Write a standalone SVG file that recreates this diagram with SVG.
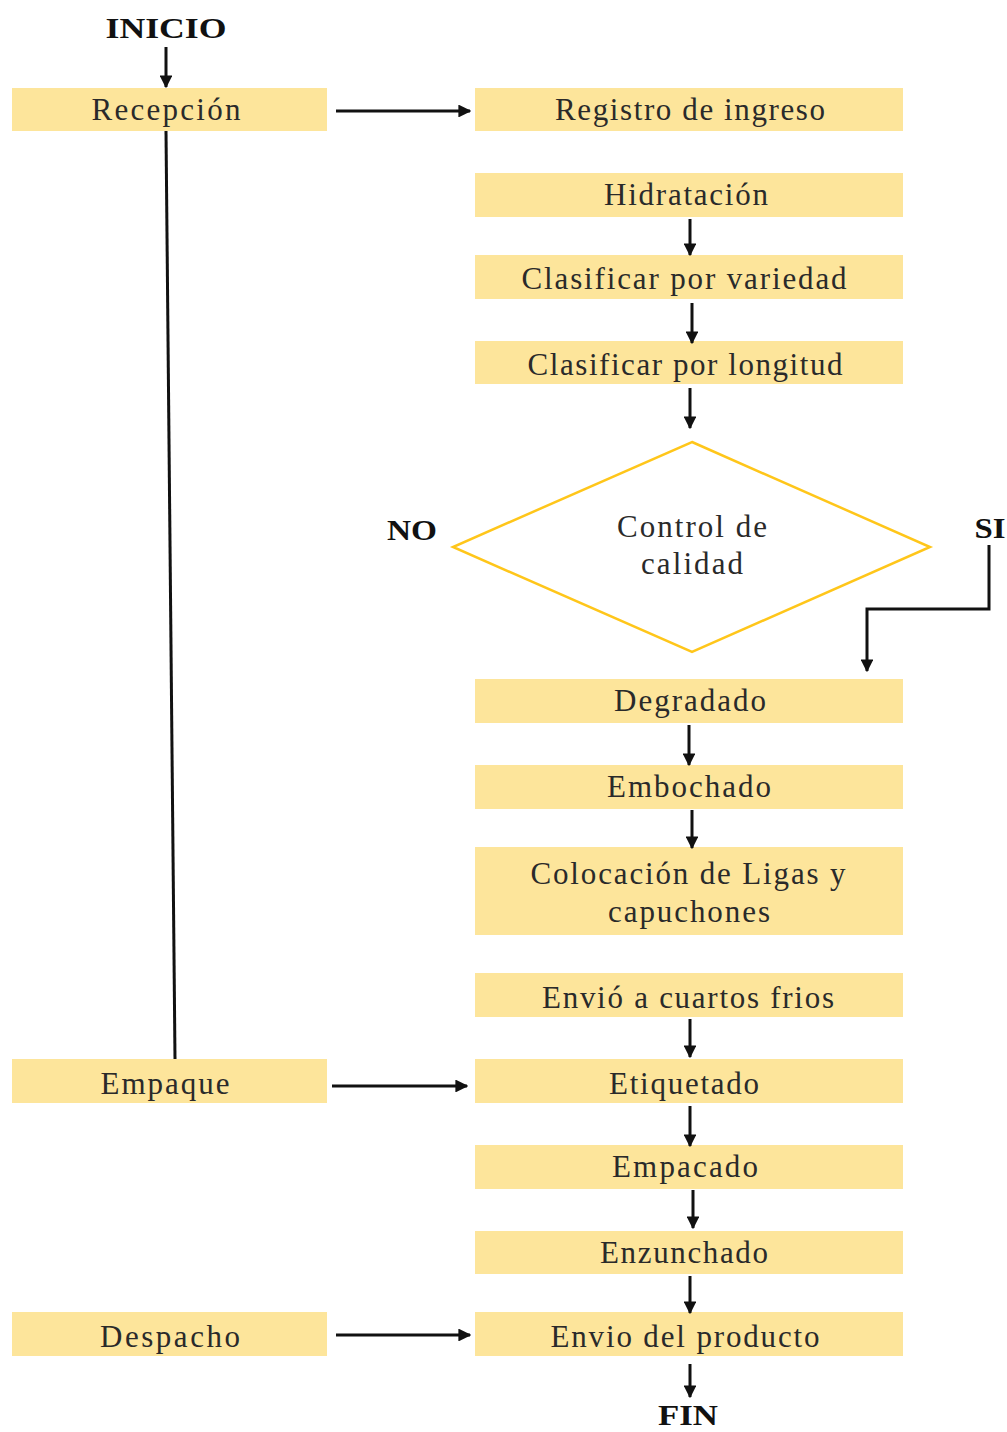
<svg xmlns="http://www.w3.org/2000/svg" width="1007" height="1432" viewBox="0 0 1007 1432">
<defs>
<style>
.box{fill:#FDE59B;}
.t{font-family:"Liberation Serif","Times New Roman",serif;font-size:31px;fill:#2a2a2a;text-anchor:middle;}
.b{font-weight:bold;fill:#111;font-size:29px;}
.c{stroke:#111;stroke-width:3;fill:none;}
</style>
<marker id="ah" viewBox="0 0 10 10" refX="9" refY="5" markerWidth="4.3" markerHeight="4.3" markerUnits="strokeWidth" orient="auto">
<path d="M0,0 L10,5 L0,10 z" fill="#111"/>
</marker>
</defs>
<rect width="1007" height="1432" fill="#fff"/>

<g id="inicio"><text class="t b" x="166" y="38" textLength="121" lengthAdjust="spacingAndGlyphs">INICIO</text></g>
<g id="recepcion"><rect class="box" x="12" y="88" width="315" height="43"/><text class="t" x="166" y="120" textLength="149" lengthAdjust="spacing">Recepción</text></g>
<g id="registro"><rect class="box" x="475" y="88" width="428" height="43"/><text class="t" x="690" y="120" textLength="270" lengthAdjust="spacing">Registro de ingreso</text></g>
<g id="hidratacion"><rect class="box" x="475" y="173" width="428" height="44"/><text class="t" x="686" y="205" textLength="164" lengthAdjust="spacing">Hidratación</text></g>
<g id="clasvar"><rect class="box" x="475" y="255" width="428" height="44"/><text class="t" x="684" y="289" textLength="325" lengthAdjust="spacing">Clasificar por variedad</text></g>
<g id="claslong"><rect class="box" x="475" y="341" width="428" height="43"/><text class="t" x="685" y="375" textLength="315" lengthAdjust="spacing">Clasificar por longitud</text></g>
<g id="control"><polygon points="692,442 930,547 692,652 453,547" fill="#fff" stroke="#FFC61A" stroke-width="2.5"/><text class="t" x="692" y="537" textLength="150" lengthAdjust="spacing">Control de</text><text class="t" x="692" y="574" textLength="102" lengthAdjust="spacing">calidad</text></g>
<g id="no"><text class="t b" x="412" y="540" textLength="50" lengthAdjust="spacingAndGlyphs">NO</text></g>
<g id="si"><text class="t b" x="990" y="538" textLength="31" lengthAdjust="spacingAndGlyphs">SI</text></g>
<g id="degradado"><rect class="box" x="475" y="679" width="428" height="44"/><text class="t" x="690" y="711" textLength="152" lengthAdjust="spacing">Degradado</text></g>
<g id="embochado"><rect class="box" x="475" y="765" width="428" height="44"/><text class="t" x="689" y="797" textLength="164" lengthAdjust="spacing">Embochado</text></g>
<g id="colocacion"><rect class="box" x="475" y="847" width="428" height="88"/><text class="t" x="688" y="884" textLength="315" lengthAdjust="spacing">Colocación de Ligas y</text><text class="t" x="689" y="922" textLength="162" lengthAdjust="spacing">capuchones</text></g>
<g id="envio-cuartos"><rect class="box" x="475" y="973" width="428" height="44"/><text class="t" x="688" y="1008" textLength="292" lengthAdjust="spacing">Envió a cuartos frios</text></g>
<g id="etiquetado"><rect class="box" x="475" y="1059" width="428" height="44"/><text class="t" x="684" y="1094" textLength="150" lengthAdjust="spacing">Etiquetado</text></g>
<g id="empacado"><rect class="box" x="475" y="1145" width="428" height="44"/><text class="t" x="685" y="1177" textLength="146" lengthAdjust="spacing">Empacado</text></g>
<g id="enzunchado"><rect class="box" x="475" y="1231" width="428" height="43"/><text class="t" x="684" y="1263" textLength="168" lengthAdjust="spacing">Enzunchado</text></g>
<g id="envio-producto"><rect class="box" x="475" y="1312" width="428" height="44"/><text class="t" x="685" y="1347" textLength="269" lengthAdjust="spacing">Envio del producto</text></g>
<g id="empaque"><rect class="box" x="12" y="1059" width="315" height="44"/><text class="t" x="165" y="1094" textLength="129" lengthAdjust="spacing">Empaque</text></g>
<g id="despacho"><rect class="box" x="12" y="1312" width="315" height="44"/><text class="t" x="170" y="1347" textLength="140" lengthAdjust="spacing">Despacho</text></g>
<g id="fin"><text class="t b" x="688" y="1425" textLength="60" lengthAdjust="spacingAndGlyphs">FIN</text></g>

<g id="connectors">
<line class="c" x1="166" y1="47" x2="166" y2="87" marker-end="url(#ah)"/>
<line class="c" x1="336" y1="111" x2="470" y2="111" marker-end="url(#ah)"/>
<line class="c" x1="166" y1="131" x2="175" y2="1059"/>
<line class="c" x1="332" y1="1086" x2="467" y2="1086" marker-end="url(#ah)"/>
<line class="c" x1="336" y1="1335" x2="470" y2="1335" marker-end="url(#ah)"/>
<line class="c" x1="690" y1="219" x2="690" y2="255" marker-end="url(#ah)"/>
<line class="c" x1="692" y1="303" x2="692" y2="343" marker-end="url(#ah)"/>
<line class="c" x1="690" y1="388" x2="690" y2="428" marker-end="url(#ah)"/>
<polyline class="c" points="989,545 989,609 867,609 867,671" marker-end="url(#ah)"/>
<line class="c" x1="689" y1="725" x2="689" y2="765" marker-end="url(#ah)"/>
<line class="c" x1="692" y1="810" x2="692" y2="848" marker-end="url(#ah)"/>
<line class="c" x1="690" y1="1019" x2="690" y2="1057" marker-end="url(#ah)"/>
<line class="c" x1="690" y1="1106" x2="690" y2="1146" marker-end="url(#ah)"/>
<line class="c" x1="693" y1="1190" x2="693" y2="1228" marker-end="url(#ah)"/>
<line class="c" x1="690" y1="1276" x2="690" y2="1313" marker-end="url(#ah)"/>
<line class="c" x1="690" y1="1364" x2="690" y2="1397" marker-end="url(#ah)"/>
</g>
</svg>
